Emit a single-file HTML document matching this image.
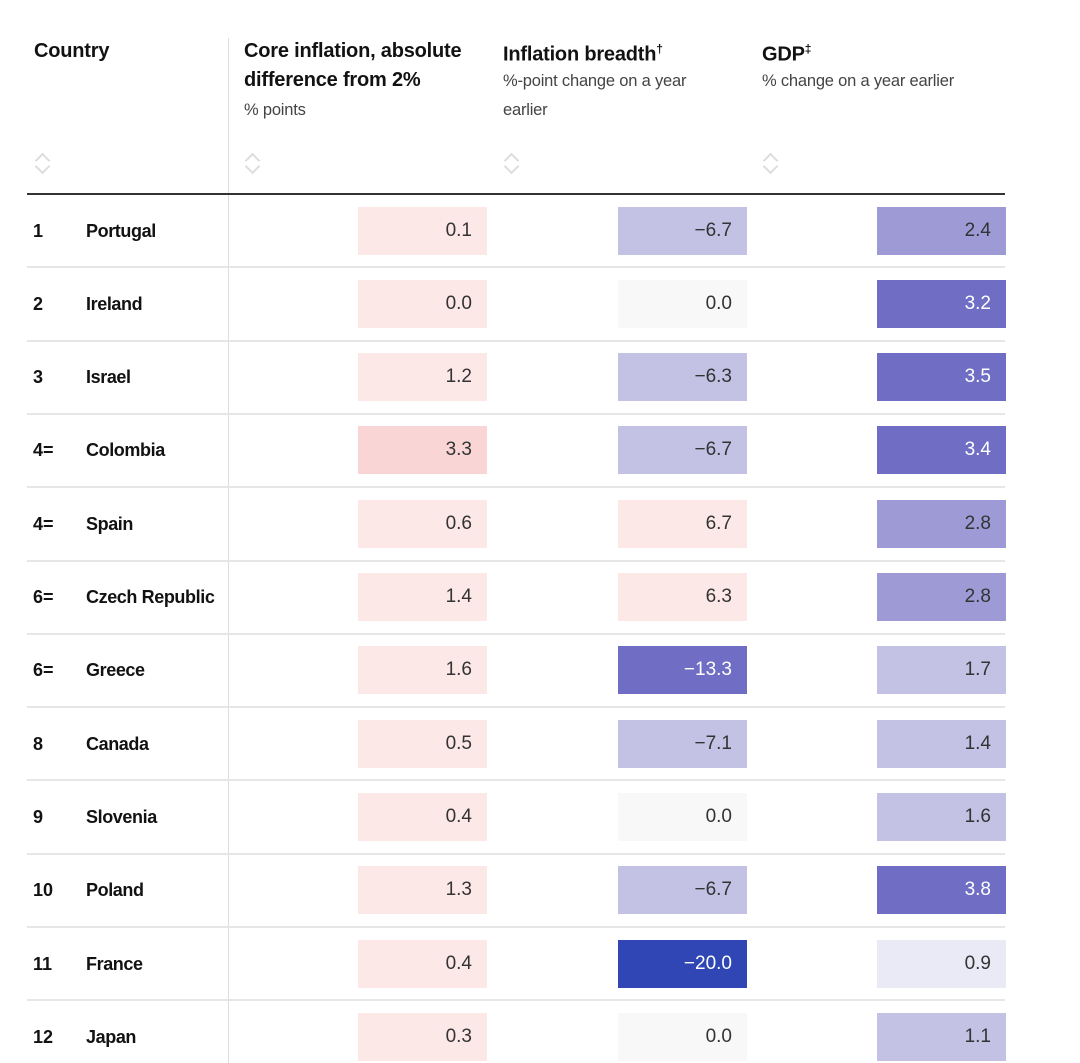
<!DOCTYPE html>
<html><head><style>
body{margin:0;background:#fff;width:1080px;height:1063px;overflow:hidden;font-family:"Liberation Sans Narrow","Liberation Sans",sans-serif;color:#121212;position:relative}
.a{position:absolute}
.h{font-weight:bold;font-size:20px;line-height:29px;letter-spacing:-0.2px}
.s{font-size:16.5px;color:#444;line-height:29px;font-family:"Liberation Sans",sans-serif;letter-spacing:-0.2px}
.sort{position:absolute;width:16px;height:24px;top:152px}
.sort:before,.sort:after{content:"";position:absolute;left:3px;width:9px;height:9px;border-left:2px solid #ddd;border-top:2px solid #ddd}
.sort:before{top:3px;transform:rotate(45deg)}
.sort:after{top:9px;transform:rotate(225deg)}
.box{position:absolute;height:48px;width:129px;text-align:right;box-sizing:border-box;padding-right:15px;line-height:48px;font-size:19px;font-family:"Liberation Sans",sans-serif;color:#333}
.sep{position:absolute;left:27px;width:978px;height:2px;background:#e6e6e6}
.rk{position:absolute;left:33px;font-weight:bold;font-size:18px;line-height:48px}
.ct{position:absolute;left:86px;font-weight:bold;font-size:18px;line-height:48px;letter-spacing:-0.4px}
</style></head><body>
<div class="a h" style="left:34px;top:37px">Country</div>
<div class="a h" style="left:244px;top:37px">Core inflation, absolute<br>difference from 2%</div>
<div class="a s" style="left:244px;top:96px">% points</div>
<div class="a h" style="left:503px;top:35px">Inflation breadth<sup style="font-size:12px">†</sup></div>
<div class="a s" style="left:503px;top:67px">%-point change on a year<br>earlier</div>
<div class="a h" style="left:762px;top:35px">GDP<sup style="font-size:12px">‡</sup></div>
<div class="a s" style="left:762px;top:67px">% change on a year earlier</div>
<div class="sort" style="left:34px"></div><div class="sort" style="left:244px"></div><div class="sort" style="left:503px"></div><div class="sort" style="left:762px"></div>
<div class="a" style="left:228px;top:38px;width:1px;height:1025px;background:#ddd"></div>
<div class="a" style="left:27px;top:193px;width:978px;height:2px;background:#333"></div>
<div id="rows"></div>
<script>
var d=[["1","Portugal","0.1","#fde8e8","−6.7","#c3c1e4","2.4","#9d9ad6"],
["2","Ireland","0.0","#fde8e8","0.0","#f8f8f8","3.2","#6f6ec4"],
["3","Israel","1.2","#fde8e8","−6.3","#c3c1e4","3.5","#6f6ec4"],
["4=","Colombia","3.3","#f9d5d5","−6.7","#c3c1e4","3.4","#6f6ec4"],
["4=","Spain","0.6","#fde8e8","6.7","#fde8e8","2.8","#9d9ad6"],
["6=","Czech Republic","1.4","#fde8e8","6.3","#fde8e8","2.8","#9d9ad6"],
["6=","Greece","1.6","#fde8e8","−13.3","#6f6ec4","1.7","#c3c1e4"],
["8","Canada","0.5","#fde8e8","−7.1","#c3c1e4","1.4","#c3c1e4"],
["9","Slovenia","0.4","#fde8e8","0.0","#f8f8f8","1.6","#c3c1e4"],
["10","Poland","1.3","#fde8e8","−6.7","#c3c1e4","3.8","#6f6ec4"],
["11","France","0.4","#fde8e8","−20.0","#2f46b4","0.9","#e9eaf6"],
["12","Japan","0.3","#fde8e8","0.0","#f8f8f8","1.1","#c3c1e4"]];
var dark=["#6f6ec4","#2f46b4"],h="";
d.forEach(function(r,i){var t=194+73.3*i,b=t+12.5;
if(i>0)h+='<div class="sep" style="top:'+(t-1)+'px"></div>';
h+='<div class="rk" style="top:'+b+'px">'+r[0]+'</div><div class="ct" style="top:'+b+'px">'+r[1]+'</div>';
[[358,2],[618,4],[877,6]].forEach(function(c){var col=r[c[1]+1];
h+='<div class="box" style="left:'+c[0]+'px;top:'+b+'px;background:'+col+';color:'+(dark.indexOf(col)>=0?'#fff':'#333')+'">'+r[c[1]]+'</div>';});});
document.getElementById("rows").innerHTML=h;
</script>
</body></html>
